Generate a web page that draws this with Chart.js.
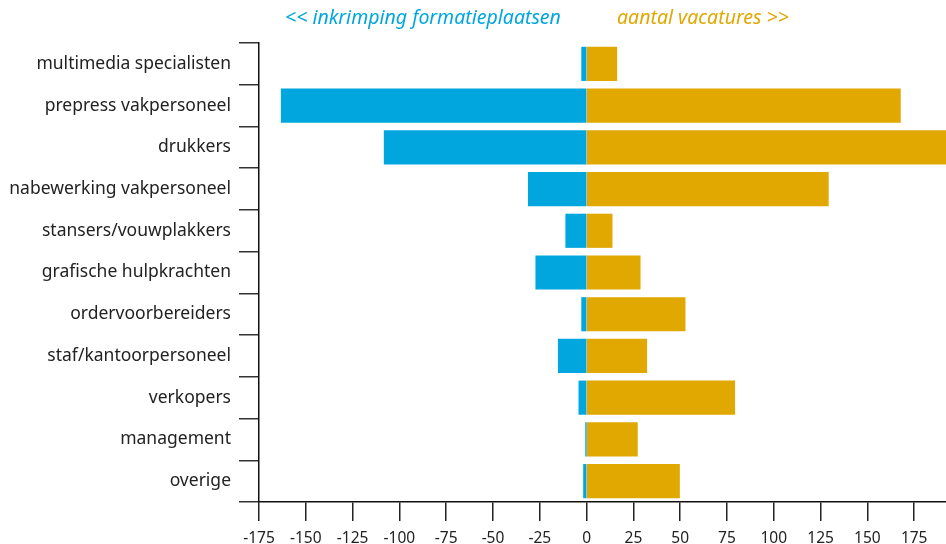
<!DOCTYPE html>
<html>
<head>
<meta charset="utf-8">
<script src="https://cdn.jsdelivr.net/npm/chart.js@4.4.1/dist/chart.umd.min.js"></script>
<style>
  html, body { margin: 0; padding: 0; background: #fff; }
  #wrap { width: 946px; height: 544px; position: relative; }
</style>
</head>
<body>
<div id="wrap"><canvas id="chart"></canvas></div>
<script>
// categories, top to bottom
var categories = [
  'multimedia specialisten',
  'prepress vakpersoneel',
  'drukkers',
  'nabewerking vakpersoneel',
  'stansers/vouwplakkers',
  'grafische hulpkrachten',
  'ordervoorbereiders',
  'staf/kantoorpersoneel',
  'verkopers',
  'management',
  'overige'
];
// << inkrimping formatieplaatsen (negative)
var inkrimping = [-2.5, -163, -108, -31, -11, -27, -2.5, -15, -4, -0.3, -1.5];
// aantal vacatures >> (positive)
var vacatures = [16, 167.5, 196, 129, 13.5, 28.5, 52.5, 32, 79, 27, 49.5];
var tickValues = [-175, -150, -125, -100, -75, -50, -25, 0, 25, 50, 75, 100, 125, 150, 175];

var blue = '#02a6de';
var gold = '#e0a800';

// header texts above the bars
var headers = {
  id: 'headers',
  afterDraw: function (chart) {
    var ctx = chart.ctx;
    ctx.save();
    ctx.font = 'italic 19.5px "Noto Sans"';
    ctx.textBaseline = 'middle';
    ctx.textAlign = 'left';
    ctx.fillStyle = blue;
    ctx.fillText('<< inkrimping formatieplaatsen', 285, 18);
    ctx.fillStyle = gold;
    ctx.fillText('aantal vacatures >>', 617, 18);
    ctx.restore();
  }
};

new Chart(document.getElementById('chart'), {
  type: 'bar',
  data: {
    labels: categories,
    datasets: [
      { label: 'inkrimping formatieplaatsen', data: inkrimping, backgroundColor: blue, borderWidth: 0, inflateAmount: 0.6 },
      { label: 'aantal vacatures', data: vacatures, backgroundColor: gold, borderWidth: 0, inflateAmount: 0.6 }
    ]
  },
  options: {
    indexAxis: 'y',
    responsive: true,
    maintainAspectRatio: false,
    animation: false,
    categoryPercentage: 1,
    barPercentage: 0.79,
    layout: { padding: { top: 43, right: 0, bottom: 0, left: 0 } },
    plugins: {
      legend: { display: false },
      tooltip: { enabled: false }
    },
    scales: {
      x: {
        stacked: true,
        min: -175,
        max: 192,
        afterBuildTicks: function (axis) {
          axis.ticks = tickValues.map(function (v) { return { value: v }; });
        },
        afterFit: function (axis) { axis.height = 42; },
        grid: { drawOnChartArea: false, tickLength: 19, color: '#222', lineWidth: 1.5 },
        border: { display: true, color: '#111', width: 1.5 },
        ticks: {
          color: '#222',
          padding: 8,
          autoSkip: false,
          maxRotation: 0,
          font: { family: 'Noto Sans', size: 15.5 },
          callback: function (v) { return String(v); }
        }
      },
      y: {
        stacked: true,
        afterFit: function (axis) { axis.width = 259; },
        grid: { offset: true, drawOnChartArea: false, tickLength: 20, color: '#333', lineWidth: 1.5 },
        border: { display: true, color: '#111', width: 1.5 },
        ticks: {
          color: '#222',
          padding: 8,
          font: { family: 'Noto Sans', size: 17.5 }
        }
      }
    }
  },
  plugins: [headers]
});
</script>
</body>
</html>
